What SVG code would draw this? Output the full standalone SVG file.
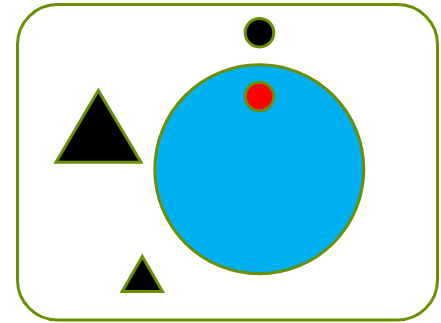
<svg xmlns="http://www.w3.org/2000/svg" width="441" height="323" viewBox="0 0 441 323">
<style>
.s{stroke:#6a8f00;stroke-width:3;stroke-linejoin:miter}
.blk{fill:#000000}
</style>
<rect width="441" height="323" fill="#ffffff"/>
<g id="frame"><rect class="s" x="17.5" y="4.5" width="420" height="315.5" rx="40" ry="40" fill="#ffffff"/></g>
<g id="big-circle"><circle class="s" cx="259.3" cy="169.3" r="104.5" fill="#00b0f0"/></g>
<g id="black-dot"><circle class="s blk" cx="259.5" cy="32.7" r="14.3"/></g>
<g id="red-dot"><circle class="s" cx="259.5" cy="96.5" r="14.3" fill="#ff0000"/></g>
<g id="big-triangle"><polygon class="s blk" points="98.3,90.5 56,162.3 141,162.3"/></g>
<g id="small-triangle"><polygon class="s blk" points="142.3,256.5 122.2,291.5 162.5,291.5"/></g>
<g id="connectors"></g>
</svg>
